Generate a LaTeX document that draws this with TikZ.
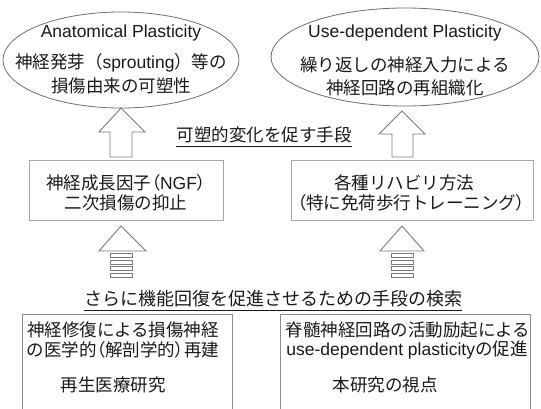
\documentclass[tikz,border=0pt]{standalone}
\usepackage{fontspec}
\setmainfont{Liberation Sans}
\newfontfamily\jp{Noto Sans CJK JP}
\newfontfamily\jpp[RawFeature=+palt]{Noto Sans CJK JP}
\usetikzlibrary{shapes.geometric}
\definecolor{txt}{HTML}{1A1A1A}
\definecolor{ellline}{HTML}{6E6E6E}
\definecolor{boxline}{HTML}{A8A8A8}
\definecolor{boxlineb}{HTML}{8C8C8C}
\definecolor{arrline}{HTML}{7A7A7A}
\tikzset{
  lbl/.style={inner sep=0pt, text=txt, font=\fontsize{17.5}{20}\selectfont},
  ell/.style={ellipse, draw=ellline, line width=0.8pt, inner sep=0pt},
  topbox/.style={rectangle, draw=boxline, line width=0.9pt, inner sep=0pt},
  botbox/.style={rectangle, draw=boxlineb, line width=1pt, inner sep=0pt},
  blockarrow/.style={draw=arrline, line width=0.9pt, fill=white, line join=miter},
  uline/.style={draw=txt, line width=0.9pt},
}
\begin{document}
\begin{tikzpicture}[x=1pt,y=-1pt]
\useasboundingbox (0,0) rectangle (541,408);
\fill[white] (0,0) rectangle (541,408);

% ellipses
\node[ell, minimum width=236pt, minimum height=96pt] (e1) at (121,60) {};
\node[ell, minimum width=268pt, minimum height=98pt] (e2) at (405,57) {};
\node[lbl] (e1a) at (121,33) {Anatomical Plasticity};
\node[lbl] (e1b) at (121,63) {\jp 神経発芽（{\rmfamily sprouting}）等の};
\node[lbl] (e1c) at (121,86) {\jp 損傷由来の可塑性};
\node[lbl] (e2a) at (405,33) {Use-dependent Plasticity};
\node[lbl] (e2b) at (405,65) {\jp 繰り返しの神経入力による};
\node[lbl] (e2c) at (405,88) {\jp 神経回路の再組織化};

% upper block arrows
\draw[blockarrow] (110,157) -- (110,132) -- (99,132) -- (121,108) -- (145,132) -- (132,132) -- (132,157) -- cycle;
\draw[blockarrow] (392,157) -- (392,134) -- (379,134) -- (402,111) -- (425,134) -- (413,134) -- (413,157) -- cycle;

% middle caption
\node[lbl] (mid) at (264,135) {\jp 可塑的変化を促す手段};
\draw[uline] ([yshift=-3pt]mid.south west) -- ([yshift=-3pt]mid.south east);

% middle boxes
\node[topbox, minimum width=194pt, minimum height=60pt] (b1) at (126,190) {};
\node[topbox, minimum width=242pt, minimum height=60pt] (b2) at (412,190) {};
\node[lbl] (b1a) at (126,183) {\jp 神経成長因子{\jpp （}{\rmfamily NGF}{\jpp ）}};
\node[lbl] (b1b) at (126,203) {\jp 二次損傷の抑止};
\node[lbl] (b2a) at (404,183) {\jp 各種リハビリ方法};
\node[lbl] (b2b) at (411,203) {{\jpp （}\jp 特に免荷歩行トレーニング{\jpp ）}};

% lower striped arrows
\draw[blockarrow] (99,251) -- (121,226) -- (146,251) -- cycle;
\foreach \yy in {253.5,260,266.5,273.5}
  \draw[draw=arrline, line width=0.9pt] (110,\yy) rectangle (132,\yy+4);
\draw[blockarrow] (380,251) -- (402,226) -- (424,251) -- cycle;
\foreach \yy in {253.5,260,266.5,273.5}
  \draw[draw=arrline, line width=0.9pt] (391,\yy) rectangle (413,\yy+4);

% lower caption
\node[lbl, font=\fontsize{18}{20}\selectfont] (low) at (273,299) {\jp さらに機能回復を促進させるための手段の検索};
\draw[uline] ([yshift=-3pt]low.south west) -- ([yshift=-3pt]low.south east);

% bottom boxes
\node[botbox, minimum width=210pt, minimum height=110pt, anchor=north west] (b3) at (22,314) {};
\node[botbox, minimum width=250pt, minimum height=110pt, anchor=north west] (b4) at (280,314) {};
\node[lbl] (b3a) at (123,330) {\jp 神経修復による損傷神経};
\node[lbl] (b3b) at (123,350) {\jp の医学的{\jpp （}解剖学的{\jpp ）}再建};
\node[lbl] (b3c) at (113,385) {\jp 再生医療研究};
\node[lbl] (b4a) at (408,330) {\jp 脊髄神経回路の活動励起による};
\node[lbl] (b4b) at (407,350) {use-dependent plasticity{\jp の促進}};
\node[lbl] (b4c) at (385,385) {\jp 本研究の視点};
\end{tikzpicture}
\end{document}
